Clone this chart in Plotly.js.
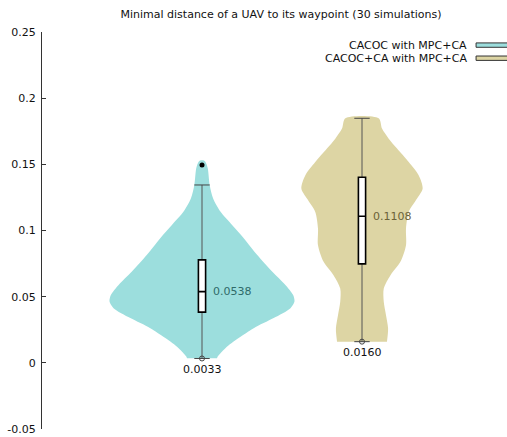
<!DOCTYPE html>
<html>
<head>
<meta charset="utf-8">
<script src="https://cdn.plot.ly/plotly-3.0.1.min.js"></script>
<style>html,body{margin:0;padding:0;background:#fff;}#chart{width:507px;height:437px;}</style>
</head>
<body>
<div id="chart"></div>
<script>
// ---- data ----
const seriesNames = ["CACOC with MPC+CA", "CACOC+CA with MPC+CA"];
const positions = [1, 2];

// violin outlines: y levels and estimated half-widths (density, in category units)
const violinY1 = [0.0035, 0.0048, 0.0111, 0.0187, 0.0262, 0.0338, 0.0413, 0.0463, 0.0514, 0.0589, 0.0690, 0.0816, 0.0942, 0.1042, 0.1143, 0.1244, 0.1344, 0.1470, 0.1520, 0.1530];
const violinW1 = [0.094, 0.098, 0.146, 0.229, 0.323, 0.448, 0.553, 0.578, 0.569, 0.521, 0.438, 0.344, 0.261, 0.188, 0.115, 0.069, 0.048, 0.036, 0.021, 0.008];
const violinY2 = [0.0159, 0.0259, 0.0360, 0.0461, 0.0561, 0.0662, 0.0763, 0.0889, 0.1014, 0.1140, 0.1241, 0.1317, 0.1418, 0.1518, 0.1619, 0.1694, 0.1770, 0.1848];
const violinW2 = [0.156, 0.163, 0.150, 0.136, 0.136, 0.178, 0.240, 0.275, 0.275, 0.292, 0.344, 0.379, 0.354, 0.292, 0.219, 0.167, 0.125, 0.104];

// box statistics
const q1 = [0.0383, 0.0748];
const medians = [0.0538, 0.1108];
const q3 = [0.0778, 0.1402];
const whiskerLow = [0.0033, 0.0160];
const whiskerHigh = [0.1344, 0.1848];
const outlierX = [1];
const outlierY = [0.1495];

const medianLabels = ["0.0538", "0.1108"];
const minLabels = ["0.0033", "0.0160"];

// ---- styles ----
const fills = ["#9cdedd", "#ddd5a4"];
const medianTextColors = ["#2f6b69", "#6b6337"];
const FONT = "DejaVu Sans, sans-serif";

function outline(center, ys, ws) {
  const x = [], y = [];
  for (let i = 0; i < ys.length; i++) { x.push(center + ws[i]); y.push(ys[i]); }
  for (let i = ys.length - 1; i >= 0; i--) { x.push(center - ws[i]); y.push(ys[i]); }
  return {x, y};
}

const traces = [];
const vys = [violinY1, violinY2], vws = [violinW1, violinW2];
for (let k = 0; k < 2; k++) {
  const o = outline(positions[k], vys[k], vws[k]);
  traces.push({type: "scatter", mode: "lines", x: o.x, y: o.y, fill: "toself",
    fillcolor: fills[k], line: {width: 0, shape: "spline", smoothing: 0.8, color: fills[k]},
    hoverinfo: "skip", showlegend: false});
}
// whiskers (on overlay axis so they draw above the fills)
for (let k = 0; k < 2; k++) {
  traces.push({type: "scatter", mode: "lines+markers", xaxis: "x2", yaxis: "y",
    x: [positions[k], positions[k]],
    y: [whiskerLow[k], whiskerHigh[k]], line: {color: "#555", width: 1},
    marker: {symbol: "line-ew", size: 11, line: {color: "#444", width: 1}},
    hoverinfo: "skip", showlegend: false});
}
traces.push({type: "scatter", mode: "markers", xaxis: "x2", yaxis: "y", x: positions, y: whiskerLow,
  marker: {symbol: "circle-open", size: 5, color: "#444", line: {width: 1}},
  hoverinfo: "skip", showlegend: false});
// boxes on a third overlay so they sit above the whisker line
for (let k = 0; k < 2; k++) {
  traces.push({type: "box", xaxis: "x3", yaxis: "y", x: [positions[k]], q1: [q1[k]], median: [medians[k]], q3: [q3[k]],
    lowerfence: [q1[k]], upperfence: [q3[k]], width: 0.045, whiskerwidth: 0,
    fillcolor: "#ffffff", line: {color: "#000", width: 1.6}, boxpoints: false,
    hoverinfo: "skip", showlegend: false});
}
// outlier
traces.push({type: "scatter", mode: "markers", xaxis: "x3", yaxis: "y", x: outlierX, y: outlierY,
  marker: {color: "#000", size: 5}, hoverinfo: "skip", showlegend: false});

const annotations = [];
for (let k = 0; k < 2; k++) {
  annotations.push({x: positions[k], y: medians[k], xref: "x", yref: "y", text: medianLabels[k],
    showarrow: false, xanchor: "left", yanchor: "middle", xshift: 9,
    font: {family: FONT, size: 11, color: medianTextColors[k]}});
  annotations.push({x: positions[k], y: whiskerLow[k], xref: "x", yref: "y", text: minLabels[k],
    showarrow: false, xanchor: "center", yanchor: "middle", yshift: -11,
    font: {family: FONT, size: 11, color: "#111"}});
}
// legend (text left, swatch right)
const legY = [0.967, 0.934];
const shapes = [];
for (let k = 0; k < 2; k++) {
  annotations.push({x: 0.919, y: legY[k], xref: "paper", yref: "paper", text: seriesNames[k],
    showarrow: false, xanchor: "right", yanchor: "middle",
    font: {family: FONT, size: 11, color: "#111"}});
  shapes.push({type: "rect", xref: "paper", yref: "paper", x0: 0.9335, x1: 1.2,
    y0: legY[k] - 0.0055, y1: legY[k] + 0.0055, fillcolor: fills[k],
    line: {color: "#333", width: 1}});
}

const xr = [0, 465 / 160];
const layout = {
  width: 507, height: 437,
  margin: {l: 42, r: 0, t: 32, b: 8, pad: 0},
  paper_bgcolor: "#fff", plot_bgcolor: "#fff",
  font: {family: FONT, size: 11, color: "#111"},
  title: {text: "Minimal distance of a UAV to its waypoint (30 simulations)",
    x: 281 / 507, xref: "container", xanchor: "center",
    y: 1 - 14 / 437, yref: "container", yanchor: "middle",
    font: {family: FONT, size: 11, color: "#111"}},
  xaxis: {range: xr, visible: false, fixedrange: true},
  xaxis2: {range: xr, visible: false, overlaying: "x", fixedrange: true},
  xaxis3: {range: xr, visible: false, overlaying: "x", fixedrange: true},
  yaxis: {range: [-0.05, 0.25], tickvals: [-0.05, 0, 0.05, 0.1, 0.15, 0.2, 0.25],
    ticktext: ["-0.05", "0", "0.05", "0.1", "0.15", "0.2", "0.25"],
    showline: true, linecolor: "#333", linewidth: 1, ticks: "inside", ticklen: 4,
    tickcolor: "#333", showgrid: false, zeroline: false, ticklabelstandoff: 3,
    tickfont: {family: FONT, size: 11, color: "#111"}},
  showlegend: false,
  annotations: annotations, shapes: shapes
};
Plotly.newPlot("chart", traces, layout, {staticPlot: true, displayModeBar: false});
</script>
</body>
</html>
